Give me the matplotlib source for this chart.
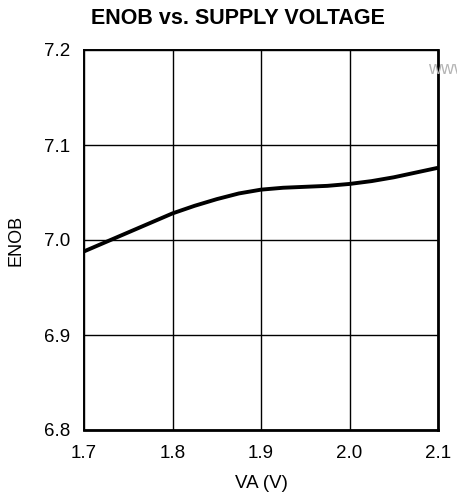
"""ENOB vs. supply voltage chart."""

import matplotlib
matplotlib.use("Agg")
import matplotlib.pyplot as plt

# data
va_volts = [1.700, 1.725, 1.750, 1.775, 1.800, 1.825, 1.850, 1.875, 1.900,
            1.925, 1.950, 1.975, 2.000, 2.025, 2.050, 2.075, 2.100]
enob = [6.988, 6.998, 7.008, 7.018, 7.028, 7.036, 7.043, 7.049, 7.053,
        7.055, 7.056, 7.057, 7.059, 7.062, 7.066, 7.071, 7.076]

x_ticks = [1.7, 1.8, 1.9, 2.0, 2.1]
x_tick_labels = ["1.7", "1.8", "1.9", "2.0", "2.1"]
y_ticks = [6.8, 6.9, 7.0, 7.1, 7.2]
y_tick_labels = ["6.8", "6.9", "7.0", "7.1", "7.2"]

plt.rcParams["font.family"] = ["Liberation Sans", "DejaVu Sans"]

W, H = 457, 499
fig = plt.figure(figsize=(W / 100, H / 100), dpi=100)
ax = fig.add_axes([84 / W, 1 - 430 / H, 354 / W, 380 / H])

ax.plot(va_volts, enob, color="black", linewidth=2.8,
        solid_capstyle="butt", solid_joinstyle="round", zorder=3)

ax.set_xlim(1.7, 2.1)
ax.set_ylim(6.8, 7.2)
ax.set_xticks(x_ticks)
ax.set_xticklabels(x_tick_labels)
ax.set_yticks(y_ticks)
ax.set_yticklabels(y_tick_labels)
ax.tick_params(length=0, labelsize=13.5, colors="black")
ax.tick_params(axis="x", pad=11)
ax.tick_params(axis="y", pad=10)

ax.grid(True, color="black", linewidth=1.0)
ax.set_axisbelow(True)
for side, sp in ax.spines.items():
    sp.set_color("black")
    sp.set_linewidth(2.0 if side in ("right", "bottom") else 1.4)

ax.set_xlabel("VA (V)", fontsize=13.5, labelpad=9)
ax.set_ylabel("ENOB", fontsize=13, labelpad=14)

fig.text(238 / W, 1 - 19 / H, "ENOB vs. SUPPLY VOLTAGE", ha="center",
         va="center", fontsize=15.5, fontweight="bold")

# faint watermark, cut by the right edge as in the source
fig.text(428 / W, 1 - 69 / H, "www", ha="left", va="center",
         fontsize=13, color="#b4b4b4", zorder=0)

fig.savefig("out.png", dpi=100)
